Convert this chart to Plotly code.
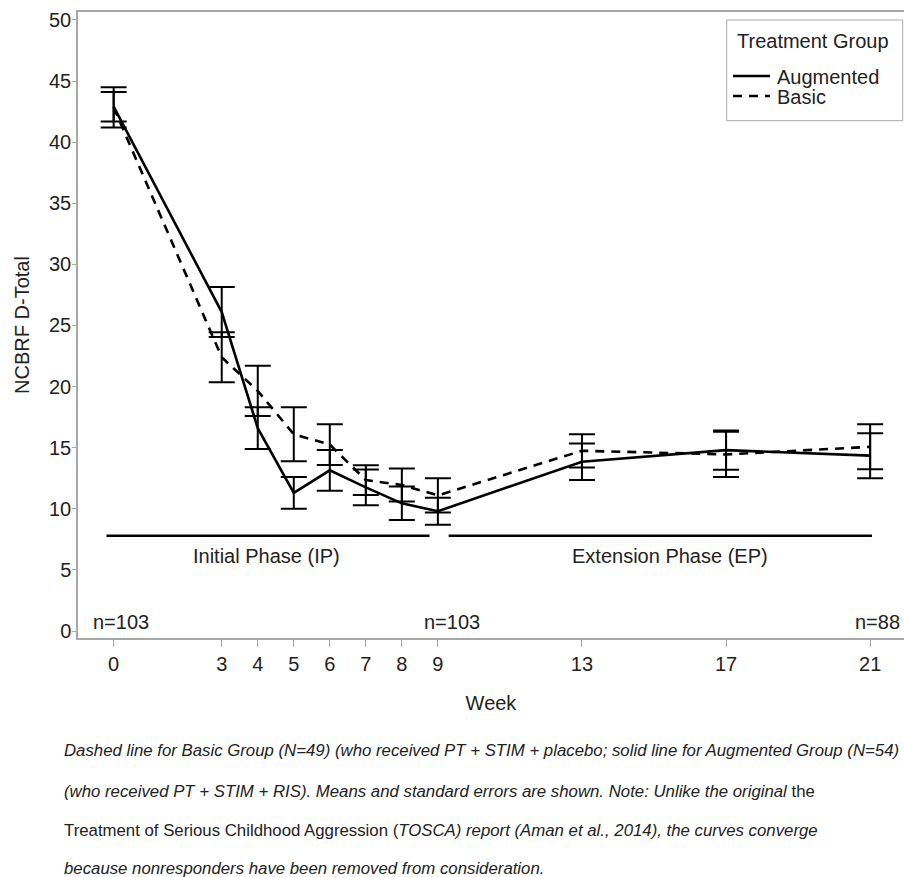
import plotly.graph_objects as go

# ---- data ----
weeks = [0, 3, 4, 5, 6, 7, 8, 9, 13, 17, 21]
aug_mean = [42.9, 26.1, 16.6, 11.3, 13.15, 11.75, 10.45, 9.8, 13.85, 14.8, 14.35]
aug_se = [1.2, 2.05, 1.7, 1.3, 1.67, 1.46, 1.37, 1.1, 1.5, 1.6, 1.84]
basic_mean = [42.85, 22.4, 19.65, 16.1, 15.25, 12.35, 11.95, 11.1, 14.75, 14.45, 15.07]
basic_se = [1.65, 2.05, 2.05, 2.2, 1.66, 1.22, 1.35, 1.4, 1.36, 1.85, 1.84]

tick_weeks = [0, 3, 4, 5, 6, 7, 8, 9, 13, 17, 21]
y_ticks = [0, 5, 10, 15, 20, 25, 30, 35, 40, 45, 50]

phase_names = ["Initial Phase (IP)", "Extension Phase (EP)"]
phase_start = [-0.2, 9.3]
phase_end = [8.77, 21.05]
phase_y = 7.8
phase_label_x = [4.25, 15.45]
phase_label_y = 6.1

n_labels = ["n=103", "n=103", "n=88"]
n_label_x = [0.2, 9.4, 21.2]
n_label_y = 0.75

legend_title = "Treatment Group"
legend_names = ["Augmented", "Basic"]

caption_lines = [
    "<i>Dashed line for Basic Group (N=49) (who received PT + STIM + placebo; solid line for Augmented Group (N=54)</i>",
    "<i>(who received PT + STIM + RIS). Means and standard errors are shown. Note: Unlike the original</i> the",
    "Treatment of Serious Childhood Aggression (<i>TOSCA) report (Aman et al., 2014), the curves converge</i>",
    "<i>because nonresponders have been removed from consideration.</i>",
]

FONT = "Liberation Sans, Arial, sans-serif"
TXT = "#222222"
AX = "#a8a8a8"

W, H = 904, 877
ML, MR, MT, MB = 78, 0, 12, 239
PW, PH = W - ML - MR, H - MT - MB


def px_x(p):
    return (p - ML) / PW


def px_y(p):
    return (MT + PH - p) / PH


fig = go.Figure()

fig.add_trace(go.Scatter(
    x=weeks, y=aug_mean, name=legend_names[0], mode="lines",
    line=dict(color="black", width=2.6),
    error_y=dict(type="data", array=aug_se, visible=True, color="black", thickness=2, width=13),
    showlegend=False,
))
fig.add_trace(go.Scatter(
    x=weeks, y=basic_mean, name=legend_names[1], mode="lines",
    line=dict(color="black", width=2.6, dash="9px,7px"),
    error_y=dict(type="data", array=basic_se, visible=True, color="black", thickness=2, width=13),
    showlegend=False,
))

for s, e in zip(phase_start, phase_end):
    fig.add_trace(go.Scatter(
        x=[s, e], y=[phase_y, phase_y], mode="lines",
        line=dict(color="black", width=2.5), showlegend=False, hoverinfo="skip",
    ))

for name, px in zip(phase_names, phase_label_x):
    fig.add_annotation(x=px, y=phase_label_y, text=name, showarrow=False,
                       font=dict(family=FONT, size=20, color=TXT), xanchor="center", yanchor="middle")

for t, px in zip(n_labels, n_label_x):
    fig.add_annotation(x=px, y=n_label_y, text=t, showarrow=False,
                       font=dict(family=FONT, size=20, color=TXT), xanchor="center", yanchor="middle")

# ---- legend (drawn manually for exact spacing) ----
fig.add_shape(type="rect", xref="paper", yref="paper",
              x0=px_x(726.7), x1=px_x(902.7), y0=px_y(120.7), y1=px_y(20),
              line=dict(color=AX, width=1), fillcolor="white", layer="above")
fig.add_annotation(xref="paper", yref="paper", x=px_x(735), y=px_y(41), text=legend_title,
                   showarrow=False, xanchor="left", yanchor="middle",
                   font=dict(family=FONT, size=20, color=TXT))
leg_y = [77, 97]
leg_dash = ["solid", "9px,7px"]
for name, yy, d in zip(legend_names, leg_y, leg_dash):
    fig.add_shape(type="line", xref="paper", yref="paper",
                  x0=px_x(733), x1=px_x(770), y0=px_y(yy - 1), y1=px_y(yy - 1),
                  line=dict(color="black", width=2.5, dash=d), layer="above")
    fig.add_annotation(xref="paper", yref="paper", x=px_x(775), y=px_y(yy), text=name,
                       showarrow=False, xanchor="left", yanchor="middle",
                       font=dict(family=FONT, size=20, color=TXT))

cap_y_px = [750.5, 791, 830, 868.5]
for line, yp in zip(caption_lines, cap_y_px):
    fig.add_annotation(
        xref="paper", yref="paper",
        x=px_x(62), y=px_y(yp),
        text=line, showarrow=False, xanchor="left", yanchor="middle", align="left",
        font=dict(family=FONT, size=16.8, color=TXT),
    )

fig.update_layout(
    width=W, height=H,
    margin=dict(l=ML, r=MR, t=MT, b=MB, pad=0),
    paper_bgcolor="white", plot_bgcolor="white",
    font=dict(family=FONT, size=20, color=TXT),
    showlegend=False,
    xaxis=dict(
        range=[-0.99, 21.94], tickmode="array", tickvals=tick_weeks,
        ticktext=[str(t) for t in tick_weeks],
        showgrid=False, zeroline=False, showline=True, linecolor=AX, linewidth=1.5,
        mirror=True, ticks="outside", ticklen=7, tickcolor=AX, tickwidth=1,
        tickfont=dict(size=20, color=TXT),
        title=dict(text="Week", font=dict(size=20, color=TXT), standoff=22),
    ),
    yaxis=dict(
        range=[-0.57, 50.65], tickmode="array", tickvals=y_ticks,
        showgrid=False, zeroline=False, showline=True, linecolor=AX, linewidth=1.5,
        ticks="outside", ticklen=4, tickcolor=AX, tickwidth=1,
        ticklabelstandoff=-3,
        tickfont=dict(size=20, color=TXT),
        title=dict(text="NCBRF D-Total", font=dict(size=20, color=TXT), standoff=14),
    ),
)

fig.write_html(
    "out.html",
    config={"displayModeBar": False},
    post_script="document.body.style.margin='0';document.body.style.overflow='hidden';",
)
